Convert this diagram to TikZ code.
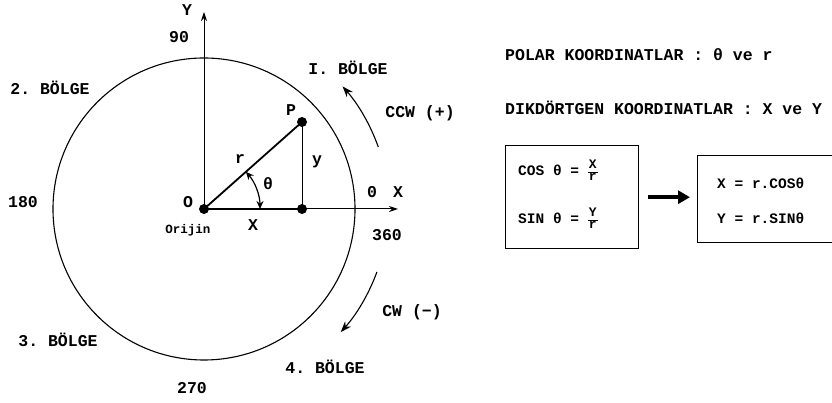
\documentclass[tikz,border=0pt]{standalone}
\usepackage{fontspec}
\setmonofont{Liberation Mono}
\usetikzlibrary{arrows.meta}
\begin{document}
\begin{tikzpicture}[x=1pt,y=1pt,
  lbl/.style={font=\ttfamily\bfseries\fontsize{16.5}{18}\selectfont, inner sep=0pt},
  sml/.style={font=\ttfamily\bfseries\fontsize{12.5}{14}\selectfont, inner sep=0pt},
  eq/.style={font=\ttfamily\bfseries\fontsize{14.5}{16}\selectfont, inner sep=0pt, anchor=west},
  dot/.style={circle, fill=black, inner sep=0pt, minimum size=10pt},
  frm/.style={draw, line width=1.4pt, inner sep=0pt},
  axis/.style={line width=1pt, -{Stealth[length=9pt,width=6pt]}},
  rot/.style={line width=1.1pt, -{Stealth[length=11pt,width=8pt]}}
]
\useasboundingbox (0,0) rectangle (832,403);
\newcommand{\tfr}[2]{$\vcenter{\hbox{\fontsize{13}{13}\selectfont\setlength{\tabcolsep}{1pt}\renewcommand{\arraystretch}{0.85}\begin{tabular}{c}#1\\\hline #2\end{tabular}}}$}

% circle and axes
\node[dot] (O) at (204,194) {};
\node[dot] (P) at (302,281) {};
\node[dot] (F) at (302,194) {};
\coordinate (Ytip) at (204,391);
\coordinate (Xtip) at (398,194);
\draw[line width=1.1pt] (O.center) circle (151);
\draw[axis] (O.center) -- (Ytip);
\draw[axis] (O.center) -- (Xtip);
\draw[line width=1.8pt] (O.center) -- (P.center);
\draw[line width=1.6pt] (O.center) -- (F.center);
\draw[line width=1pt] (P.center) -- (F.center);
% theta arc
\draw[line width=1.2pt, {Stealth[length=8pt,width=7pt]}-{Stealth[length=8pt,width=7pt]}]
  ([shift={(41.6:56)}]O.center) arc (41.6:0:56);
% rotation arrows
\draw[rot] ([shift={(19.6:185)}]O.center) arc (19.6:41.5:185);
\draw[rot] ([shift={(-20:184)}]O.center) arc (-20:-42:184);

% labels
\node[lbl] (lY) at (187,393) {Y};
\node[lbl] (l90) at (179,366) {90};
\node[lbl] (l0) at (372,211) {0};
\node[lbl] (lX) at (398,211) {X};
\node[lbl] (l360) at (387,168) {360};
\node[lbl] (l180) at (23,201) {180};
\node[lbl] (l270) at (192,15) {270};
\node[lbl] (lP) at (291,293) {P};
\node[lbl] (ly) at (317,241) {y};
\node[lbl] (lr) at (240,244) {r};
\node[lbl] (lth) at (268,219) {θ};
\node[lbl] (lx) at (253,178) {X};
\node[lbl] (lO) at (188,201) {O};
\node[sml] (lorj) at (188,173) {Orijin};
\node[lbl] (q1) at (348,335) {I. BÖLGE};
\node[lbl] (q2) at (50,315) {2. BÖLGE};
\node[lbl] (q3) at (58,63) {3. BÖLGE};
\node[lbl] (q4) at (325,36) {4. BÖLGE};
\node[lbl] (ccw) at (420,290) {CCW (+)};
\node[lbl] (cw) at (412,91) {CW (−)};

% right side text
\node[lbl, anchor=west] (polar) at (505,348) {POLAR KOORDINATLAR : θ ve r};
\node[lbl, anchor=west] (dik) at (505,295) {DIKDÖRTGEN KOORDINATLAR : X ve Y};

% boxes
\node[frm, minimum width=133pt, minimum height=103pt, anchor=north west] (b1) at (505,258) {};
\node[eq] (e1) at (518,231) {COS θ = \tfr{X}{r}};
\node[eq] (e2) at (518,183) {SIN θ = \tfr{Y}{r}};
\node[frm, minimum width=148pt, minimum height=87pt, anchor=north west] (b2) at (697,248) {};
\node[eq] (e3) at (717,220) {X = r.COSθ};
\node[eq] (e4) at (717,185) {Y = r.SINθ};
\draw[line width=4pt, -{Triangle[length=12pt,width=13pt]}] (b1.east) ++(9,0) coordinate (a1) -- ([xshift=-7pt]b2.west |- a1);
\end{tikzpicture}
\end{document}
